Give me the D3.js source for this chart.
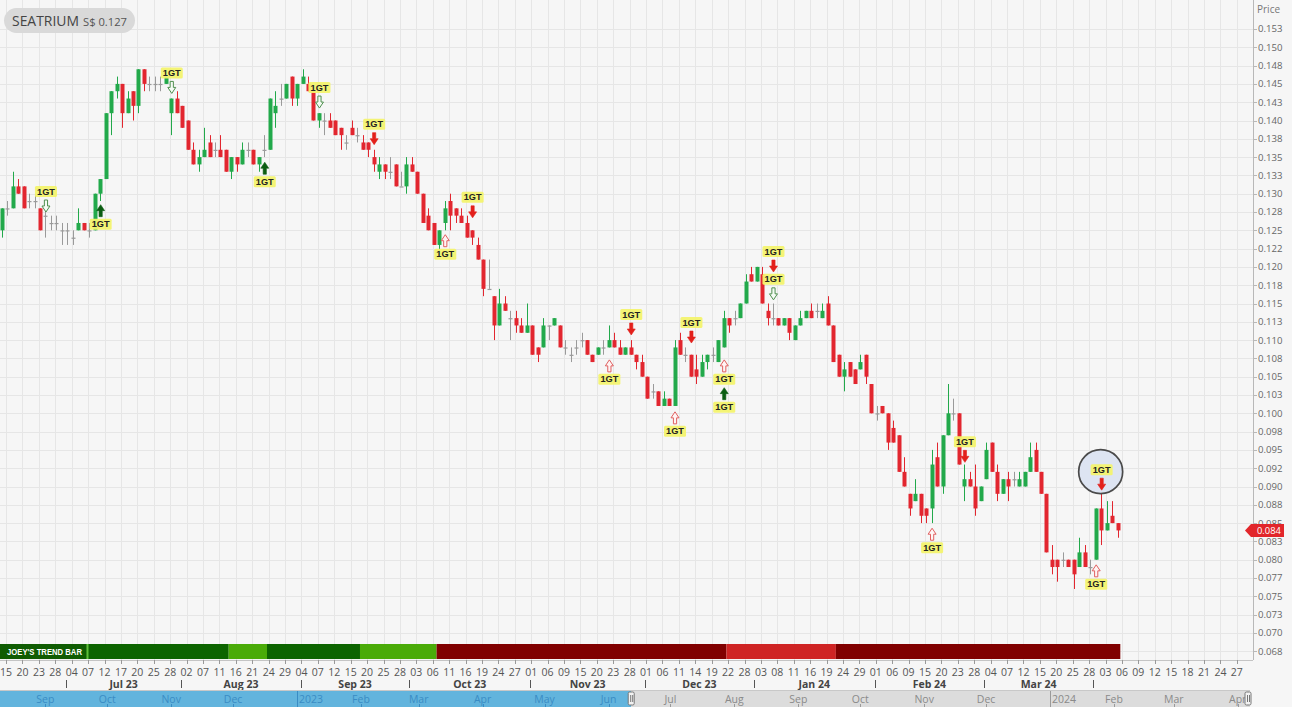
<!DOCTYPE html>
<html><head><meta charset="utf-8">
<script src="https://cdn.jsdelivr.net/npm/d3@7/dist/d3.min.js"></script>
<style>
body{margin:0;background:#f6f6f6;}
svg{display:block;font-family:"Open Sans","Noto Sans",sans-serif;}
</style>
</head><body>
<svg id="c" width="1292" height="707"></svg>
<script>
// ---------------- DATA ----------------
const openP = [.125,.128,.128,.131,.131,.129,.129,.128,.127,.126,.126,.125,.125,.124,.125,.126,.125,.125,.130,.132,
.141,.144,.145,.141,.144,.142,.147,.145,.145,.145,.145,.141,.143,.142,.140,.136,.134,.135,.137,.136,
.136,.136,.133,.135,.134,.136,.136,.134,.136,.136,.141,.143,.143,.146,.143,.145,.145,.144,.140,.140,
.140,.140,.139,.137,.139,.138,.137,.137,.135,.133,.134,.133,.134,.131,.131,.134,.133,.130,.127,.126,
.123,.126,.129,.128,.127,.126,.125,.123,.121,.117,.116,.112,.115,.113,.113,.112,.111,.112,.109,.109,
.112,.112,.112,.109,.108,.109,.110,.110,.108,.108,.109,.109,.110,.109,.108,.109,.108,.107,.105,.103,
.103,.101,.102,.101,.110,.108,.108,.106,.105,.107,.108,.107,.109,.113,.113,.113,.115,.119,.118,.119,
.114,.113,.113,.112,.113,.110,.112,.113,.114,.114,.113,.115,.112,.108,.105,.107,.106,.106,.108,.104,
.100,.101,.100,.098,.097,.092,.089,.088,.089,.087,.087,.094,.090,.097,.100,.100,.090,.091,.090,.088,
.091,.096,.092,.089,.091,.091,.090,.090,.092,.095,.092,.089,.080,.080,.080,.080,.080,.079,.081,.079,
.080,.087,.084,.086,.085];
const highP = [.128,.129,.133,.132,.131,.130,.130,.128,.128,.127,.127,.126,.126,.125,.128,.126,.126,.130,.132,.141,
.144,.146,.145,.144,.144,.147,.147,.146,.146,.146,.146,.143,.144,.142,.140,.137,.136,.139,.138,.137,
.138,.136,.135,.135,.137,.137,.136,.135,.138,.143,.144,.145,.145,.146,.145,.147,.146,.144,.141,.141,
.141,.140,.139,.138,.140,.139,.138,.137,.136,.135,.134,.135,.134,.133,.135,.135,.133,.130,.128,.126,
.125,.129,.130,.128,.128,.127,.125,.124,.121,.121,.116,.117,.116,.114,.114,.113,.115,.112,.109,.113,
.112,.113,.112,.110,.109,.110,.111,.110,.108,.109,.110,.112,.111,.110,.109,.110,.108,.108,.105,.104,
.103,.103,.102,.110,.111,.109,.108,.108,.108,.108,.109,.110,.114,.113,.114,.115,.119,.120,.120,.120,
.115,.115,.113,.113,.113,.112,.114,.114,.115,.115,.115,.116,.112,.108,.107,.107,.106,.108,.108,.104,
.101,.101,.100,.099,.097,.094,.089,.091,.089,.087,.095,.096,.097,.104,.102,.100,.093,.092,.093,.090,
.096,.096,.093,.091,.092,.092,.092,.092,.096,.096,.092,.089,.082,.080,.081,.080,.080,.083,.082,.080,
.087,.089,.088,.088,.085];
const lowP = [.124,.127,.128,.130,.128,.128,.128,.125,.124,.125,.125,.123,.123,.123,.125,.125,.124,.125,.129,.132,
.138,.143,.139,.141,.140,.141,.144,.144,.144,.144,.145,.138,.141,.139,.136,.134,.133,.135,.135,.135,
.135,.133,.132,.133,.134,.135,.134,.133,.135,.136,.139,.142,.143,.142,.142,.145,.144,.140,.139,.138,
.139,.138,.136,.136,.138,.137,.136,.135,.133,.132,.132,.132,.131,.131,.130,.133,.130,.126,.125,.123,
.122,.125,.125,.126,.126,.124,.123,.121,.116,.117,.110,.112,.114,.110,.111,.111,.111,.108,.107,.109,
.110,.112,.109,.108,.107,.108,.109,.108,.107,.108,.108,.109,.109,.108,.108,.108,.106,.105,.102,.102,
.101,.101,.101,.101,.108,.107,.105,.104,.105,.106,.107,.107,.109,.111,.112,.113,.115,.118,.118,.115,
.112,.112,.112,.112,.110,.110,.112,.113,.113,.113,.113,.112,.107,.105,.103,.105,.104,.106,.104,.100,
.099,.100,.095,.096,.092,.090,.086,.088,.085,.085,.085,.090,.089,.097,.099,.093,.088,.090,.086,.088,
.091,.092,.088,.089,.088,.090,.090,.090,.092,.092,.089,.081,.078,.077,.079,.079,.076,.079,.079,.078,
.080,.082,.084,.085,.083];
const closeP = [.128,.128,.131,.130,.128,.129,.129,.125,.127,.126,.126,.125,.125,.124,.126,.125,.125,.130,.132,.141,
.144,.145,.141,.143,.142,.147,.145,.145,.145,.145,.146,.143,.141,.139,.136,.134,.135,.136,.135,.136,
.135,.133,.135,.134,.136,.136,.134,.135,.136,.143,.142,.143,.145,.143,.145,.146,.144,.140,.141,.140,
.139,.138,.138,.137,.138,.138,.136,.136,.134,.134,.133,.133,.131,.131,.134,.133,.130,.126,.125,.123,
.125,.128,.127,.127,.126,.124,.124,.121,.117,.117,.112,.115,.114,.113,.112,.111,.112,.108,.108,.112,
.112,.113,.109,.109,.108,.109,.110,.108,.107,.109,.109,.110,.109,.108,.109,.108,.107,.105,.102,.103,
.101,.102,.101,.109,.108,.108,.105,.105,.107,.108,.108,.110,.113,.112,.113,.115,.118,.118,.120,.115,
.113,.113,.112,.113,.111,.112,.113,.114,.113,.114,.114,.112,.107,.105,.106,.105,.104,.107,.105,.100,
.100,.100,.096,.096,.092,.090,.087,.089,.086,.086,.093,.090,.097,.100,.100,.093,.091,.090,.087,.090,
.095,.092,.089,.091,.090,.091,.091,.092,.094,.092,.089,.081,.079,.079,.080,.079,.078,.081,.079,.079,
.087,.084,.085,.085,.084];

const dayTickLabels = ["15","20","23","28","04","07","12","17","20","25","28","02","07","11","16","21","24","29","04","07",
"12","15","20","25","28","03","06","11","16","19","24","27","01","06","09","15","20","23","28","01",
"06","11","14","19","22","28","03","08","11","16","19","24","29","01","06","09","15","20","23","28",
"04","07","12","15","20","25","28","03","06","09","12","15","18","21","24","27"];
const monthNames = ["Jul 23","Aug 23","Sep 23","Oct 23","Nov 23","Dec 23","Jan 24","Feb 24","Mar 24"];
const monthBreaks = [11.75,32.8,54.7,74.5,96.6,117.6,137.5,159.6,179.6,199.5];

const priceTickLabels = ["0.153","0.150","0.148","0.145","0.143","0.140","0.138","0.135","0.133","0.130","0.128","0.125",
"0.122","0.120","0.118","0.115","0.113","0.110","0.108","0.105","0.103","0.100","0.098","0.095","0.092","0.090",
"0.088","0.085","0.083","0.080","0.077","0.075","0.073","0.070","0.068"];

const sigIndex = [8,18,31,48,58,68,81,86,111,115,123,126,132,132,141,141,170,176,201,200];
const sigType  = ["hollowDown","up","hollowDown","up","hollowDown","down","hollowUp","down","hollowUp","down",
"hollowUp","down","hollowUp","up","down","hollowDown","hollowUp","down","down","hollowUp"];
const sigPrice = [.1275,.1285,.1437,.1343,.1417,.1367,.1244,.1267,.1073,.1107,.1002,.1096,.1073,.1035,.1193,.1155,.0843,.0933,.0895,.0793];
const circledSignal = 18;

const trendStart = [0,42,49,66,80,133,153];
const trendEnd   = [42,49,66,80,133,153,205];
const trendState = ["bull","weakBull","bull","weakBull","bear","weakBear","bear"];

const lastPrice = 0.084;

// ---------------- DRAW ----------------
const svg = d3.select("#c");
const W = 1292, H = 707;
const plotRight = 1253, axisY = 660;
const xs = d3.scaleLinear().domain([0, 228]).range([1.7, 1.7 + 5.47*228]);
const ys = d3.scaleLinear().domain([0.0675, 0.1525]).range([651.2, 29]);
const priceTicks = priceTickLabels.map((d,j)=>0.1525 - 0.0025*j);
const dayTickIdx = dayTickLabels.map((d,k)=>3*k + 0.8);

svg.append("rect").attr("width",W).attr("height",H).attr("fill","#f6f6f6");

// grid
const grid = svg.append("g");
grid.selectAll("line.h").data(priceTicks).join("line")
  .attr("x1",0).attr("x2",plotRight).attr("y1",d=>Math.round(ys(d))+0.5).attr("y2",d=>Math.round(ys(d))+0.5)
  .attr("stroke","#e6e6e6").attr("stroke-width",1);
grid.selectAll("line.v").data(dayTickIdx).join("line")
  .attr("y1",0).attr("y2",axisY).attr("x1",d=>Math.round(xs(d))+0.5).attr("x2",d=>Math.round(xs(d))+0.5)
  .attr("stroke","#e6e6e6").attr("stroke-width",1);

// candles
const UP="#22a94b", DN="#e2262f", NEU="#9a9a9a";
const candles = svg.append("g");
openP.forEach((o,i)=>{
  const c = closeP[i], h = highP[i], l = lowP[i];
  const col = c>o ? UP : (c<o ? DN : NEU);
  const cx = Math.round(xs(i));
  candles.append("line").attr("x1",cx+0.5).attr("x2",cx+0.5).attr("y1",ys(h)).attr("y2",ys(l))
    .attr("stroke",col).attr("stroke-width",1);
  const top = ys(Math.max(o,c)), bot = ys(Math.min(o,c));
  candles.append("rect").attr("x",cx-1.5).attr("width",4).attr("y",top)
    .attr("height",Math.max(1.2, bot-top)).attr("fill",col);
});

// trend bar
const trendColor = {bull:"#0c6400", weakBull:"#4aab08", bear:"#800000", weakBear:"#cf2424"};
const tb = svg.append("g");
trendStart.forEach((s,j)=>{
  const x0 = Math.max(0, xs(s)-2.735), x1 = xs(trendEnd[j])-2.735;
  tb.append("rect").attr("x",x0).attr("width",x1-x0).attr("y",644).attr("height",15).attr("fill",trendColor[trendState[j]]);
});
tb.append("rect").attr("x",0).attr("y",644).attr("width",86).attr("height",15).attr("fill","#0f5c02");
tb.append("line").attr("x1",87.5).attr("x2",87.5).attr("y1",644).attr("y2",659).attr("stroke","#5fbf3a").attr("stroke-width",2);
tb.append("text").attr("x",7).attr("y",654.8).attr("fill","#fff").attr("font-size",8.4).attr("font-weight","bold")
  .attr("font-family","Liberation Sans, Arial, sans-serif").attr("textLength",75).attr("lengthAdjust","spacingAndGlyphs")
  .text("JOEY'S TREND BAR");

// signals
const sg = svg.append("g");
function arrowPath(x, ty, dir){ // dir = +1: pointing down (body above tip), -1: pointing up
  const s = dir;
  const pts = [[x-1.6,ty-12*s],[x+1.6,ty-12*s],[x+1.6,ty-6*s],[x+4,ty-6*s],[x,ty],[x-4,ty-6*s],[x-1.6,ty-6*s]];
  return "M"+pts.map(p=>p.join(",")).join("L")+"Z";
}
sigIndex.forEach((idx,j)=>{
  const x = xs(idx)+0.5, ty = ys(sigPrice[j]);
  const t = sigType[j];
  const down = (t==="down"||t==="hollowDown");
  if (j===circledSignal){
    sg.append("circle").attr("cx",x-1).attr("cy",ty-18.5).attr("r",22)
      .attr("fill","#dde4f2").attr("stroke","#4a4a4a").attr("stroke-width",1.7);
  }
  let fill, stroke;
  if (t==="down"){fill="#e3201b";stroke="#e3201b";}
  else if (t==="up"){fill="#0b5d12";stroke="#0b5d12";}
  else if (t==="hollowDown"){fill="#f4fbf4";stroke="#4f8f4f";}
  else {fill="#fff4f4";stroke="#e06060";}
  sg.append("path").attr("d",arrowPath(x,ty,down?1:-1)).attr("fill",fill).attr("stroke",stroke).attr("stroke-width",t.startsWith("hollow")?1:0.6);
  const ly = down ? ty-26 : ty+14;
  sg.append("rect").attr("x",x-11).attr("y",ly).attr("width",22).attr("height",11).attr("rx",1.5)
    .attr("fill","#f3f36e").attr("opacity",0.95);
  sg.append("text").attr("x",x).attr("y",ly+8.6).attr("text-anchor","middle").attr("font-size",9.2)
    .attr("font-weight","bold").attr("font-family","Liberation Sans, Arial, sans-serif").attr("fill","#222").text("1GT");
});

// price axis
const pa = svg.append("g");
pa.append("line").attr("x1",plotRight+0.5).attr("x2",plotRight+0.5).attr("y1",0).attr("y2",axisY).attr("stroke","#b8b8b8");
pa.selectAll("line.t").data(priceTicks).join("line")
  .attr("x1",plotRight).attr("x2",plotRight+4).attr("y1",d=>Math.round(ys(d))+0.5).attr("y2",d=>Math.round(ys(d))+0.5).attr("stroke","#b8b8b8");
pa.selectAll("text.t").data(priceTicks).join("text")
  .attr("x",plotRight+5).attr("y",d=>ys(d)+3.4).attr("font-size",9.6).attr("fill","#666").text((d,j)=>priceTickLabels[j]);
pa.append("text").attr("x",plotRight+4).attr("y",13).attr("font-size",10).attr("fill","#777").text("Price");
// last price tag
const ty0 = ys(lastPrice);
pa.append("path").attr("d",`M${plotRight-8},${ty0}L${plotRight-2},${ty0-6.5}L${plotRight+31},${ty0-6.5}L${plotRight+31},${ty0+6.5}L${plotRight-2},${ty0+6.5}Z`).attr("fill","#e2262b");
pa.append("text").attr("x",plotRight+4).attr("y",ty0+3.3).attr("font-size",9.4).attr("fill","#fff").text(d3.format(".3f")(lastPrice));

// x axis
const xa = svg.append("g");
xa.append("line").attr("x1",0).attr("x2",plotRight).attr("y1",axisY+0.5).attr("y2",axisY+0.5).attr("stroke","#c4c4c4");
xa.selectAll("line.tk").data(dayTickIdx).join("line")
  .attr("x1",d=>Math.round(xs(d))+0.5).attr("x2",d=>Math.round(xs(d))+0.5).attr("y1",axisY).attr("y2",axisY+4).attr("stroke","#999");
xa.selectAll("text.tk").data(dayTickLabels).join("text")
  .attr("x",(d,k)=>xs(dayTickIdx[k])).attr("y",676).attr("text-anchor","middle").attr("font-size",10.5).attr("fill","#555").text(d=>d);
xa.selectAll("line.mb").data(monthBreaks).join("line")
  .attr("x1",d=>Math.round(xs(d))+0.5).attr("x2",d=>Math.round(xs(d))+0.5).attr("y1",680).attr("y2",688).attr("stroke","#555");
xa.selectAll("text.mn").data(monthNames).join("text")
  .attr("x",(d,k)=>xs((monthBreaks[k]+monthBreaks[k+1])/2)).attr("y",687.5).attr("text-anchor","middle")
  .attr("font-size",10.5).attr("font-weight","bold").attr("fill","#444").text(d=>d);

// navigator
const nav = svg.append("g");
const ns = d3.scaleTime().domain([new Date(2023,0,1), new Date(2024,0,1)]).range([297,1050]);
const selStart = ns(new Date(2023,5,12));
nav.append("rect").attr("x",0).attr("y",691).attr("width",selStart).attr("height",16).attr("fill","#62b4dd");
nav.append("rect").attr("x",selStart).attr("y",691).attr("width",1250-selStart).attr("height",16).attr("fill","#dcdcdc");
nav.append("line").attr("x1",0).attr("x2",1250).attr("y1",690.5).attr("y2",690.5).attr("stroke","#c8c8c8");
const months = d3.timeMonth.range(new Date(2022,8,1), new Date(2024,4,1));
nav.selectAll("text.m").data(months).join("text")
  .attr("x",d=>d.getMonth()===0 ? ns(d)+2 : ns(d)).attr("y",703)
  .attr("text-anchor",d=>d.getMonth()===0?"start":"middle").attr("font-size",10.5)
  .attr("fill",d=>ns(d)<selStart ? "#3a8cc4" : "#8a8a8a")
  .text(d=>d.getMonth()===0 ? d3.timeFormat("%Y")(d) : d3.timeFormat("%b")(d));
nav.selectAll("line.m").data(months).join("line")
  .attr("x1",d=>Math.round(ns(d))+0.5).attr("x2",d=>Math.round(ns(d))+0.5)
  .attr("y1",d=>d.getMonth()===0?691:704).attr("y2",707)
  .attr("stroke",d=>ns(d)<selStart ? "#3a8cc4" : "#9a9a9a");
[selStart, 1248].forEach(hx=>{
  nav.append("rect").attr("x",hx-3).attr("y",692).attr("width",6).attr("height",13).attr("rx",1.5)
    .attr("fill","#f2f2f2").attr("stroke","#777");
  nav.append("line").attr("x1",hx-0.5).attr("x2",hx-0.5).attr("y1",695).attr("y2",702).attr("stroke","#777");
  nav.append("line").attr("x1",hx+1.5).attr("x2",hx+1.5).attr("y1",695).attr("y2",702).attr("stroke","#777");
});

// title pill
const tg = svg.append("g");
tg.append("rect").attr("x",4).attr("y",8).attr("width",131).attr("height",25).attr("rx",12.5).attr("fill","#d9d9d9");
tg.append("text").attr("x",12).attr("y",26).attr("font-size",14).attr("fill","#444")
  .attr("textLength",67).attr("lengthAdjust","spacingAndGlyphs").text("SEATRIUM");
tg.append("text").attr("x",83).attr("y",26).attr("font-size",11.5).attr("fill","#555")
  .attr("textLength",44).attr("lengthAdjust","spacingAndGlyphs").text("S$ 0.127");
</script>
</body></html>
